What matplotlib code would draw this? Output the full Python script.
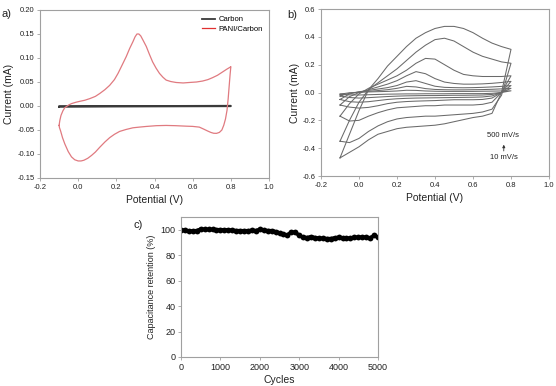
import matplotlib
matplotlib.use("Agg")
import matplotlib.pyplot as plt

plt.rcParams['font.family'] = ['Liberation Sans', 'DejaVu Sans']

# ---------------- Panel a data ----------------
a_carbon_v = [-0.1, 0.8, 0.8, -0.1, -0.1]
a_carbon_i = [-0.0015, -0.0005, 0.0005, -0.0005, -0.0015]

a_pani_v = [-0.100, -0.096, -0.090, -0.080, -0.070, -0.050, -0.035, -0.010, 0.009, 0.035,
            0.061, 0.090, 0.113, 0.140, 0.165, 0.190, 0.209, 0.230, 0.252, 0.270,
            0.287, 0.298, 0.308, 0.318, 0.328, 0.340, 0.357, 0.373, 0.390, 0.408,
            0.426, 0.444, 0.461, 0.485, 0.513, 0.550, 0.583, 0.620, 0.652, 0.680,
            0.704, 0.730, 0.757, 0.780, 0.797, 0.800,
            0.796, 0.791, 0.786, 0.780, 0.772, 0.763, 0.753, 0.740, 0.725, 0.710,
            0.695, 0.678, 0.657, 0.635, 0.600, 0.565, 0.510, 0.461, 0.410, 0.357,
            0.320, 0.287, 0.250, 0.217, 0.190, 0.165, 0.140, 0.113, 0.090, 0.070,
            0.050, 0.030, 0.015, 0.000, -0.018, -0.035, -0.052, -0.070, -0.082, -0.092,
            -0.098, -0.100]
a_pani_i = [-0.0405, -0.030, -0.0196, -0.010, -0.0035, 0.002, 0.005, 0.008, 0.0098, 0.012,
            0.0154, 0.020, 0.026, 0.034, 0.043, 0.055, 0.068, 0.085, 0.103, 0.120,
            0.134, 0.144, 0.150, 0.150, 0.146, 0.137, 0.124, 0.108, 0.092, 0.079,
            0.068, 0.060, 0.054, 0.051, 0.049, 0.048, 0.049, 0.050, 0.052, 0.055,
            0.059, 0.064, 0.071, 0.077, 0.081, 0.082,
            0.065, 0.040, 0.015, -0.009, -0.027, -0.040, -0.050, -0.055, -0.057, -0.0568,
            -0.055, -0.052, -0.048, -0.044, -0.0425, -0.042, -0.041, -0.0405, -0.041, -0.0426,
            -0.044, -0.0454, -0.049, -0.053, -0.059, -0.066, -0.075, -0.086, -0.096, -0.103,
            -0.109, -0.113, -0.1145, -0.1145, -0.112, -0.106, -0.095, -0.079, -0.066, -0.052,
            -0.045, -0.0405]

# ---------------- Panel b data ----------------
b_v_up = [-0.1, -0.05, 0.0, 0.05, 0.1, 0.15, 0.2, 0.25, 0.3, 0.35, 0.4, 0.45, 0.5,
          0.55, 0.6, 0.65, 0.7, 0.75, 0.8]
b_v_down = [0.8, 0.75, 0.7, 0.65, 0.6, 0.55, 0.5, 0.45, 0.4, 0.35, 0.3, 0.25, 0.2,
            0.15, 0.1, 0.05, 0.0, -0.05, -0.1]

b_up_500 = [-0.47, -0.30, -0.13, 0.02, 0.10, 0.19, 0.26, 0.33, 0.39, 0.43, 0.46, 0.475, 0.475,
            0.46, 0.43, 0.39, 0.355, 0.33, 0.31]
b_down_500 = [0.31, 0.0, -0.15, -0.17, -0.18, -0.195, -0.21, -0.225, -0.235, -0.24, -0.245,
              -0.25, -0.26, -0.28, -0.30, -0.34, -0.39, -0.43, -0.47]
b_up_300 = [-0.35, -0.20, -0.07, 0.02, 0.07, 0.12, 0.17, 0.23, 0.29, 0.34, 0.38, 0.39, 0.37,
            0.33, 0.29, 0.26, 0.24, 0.22, 0.21]
b_down_300 = [0.21, -0.02, -0.12, -0.14, -0.15, -0.155, -0.16, -0.165, -0.17, -0.17, -0.175,
              -0.18, -0.19, -0.21, -0.24, -0.28, -0.33, -0.36, -0.35]
b_up_200 = [-0.17, -0.08, -0.01, 0.03, 0.06, 0.09, 0.12, 0.16, 0.21, 0.245, 0.24, 0.20, 0.16,
            0.13, 0.12, 0.115, 0.115, 0.115, 0.12]
b_down_200 = [0.12, 0.0, -0.07, -0.085, -0.09, -0.09, -0.09, -0.09, -0.095, -0.095, -0.10,
              -0.105, -0.11, -0.125, -0.145, -0.17, -0.20, -0.205, -0.17]
b_up_100 = [-0.09, -0.03, 0.0, 0.02, 0.04, 0.06, 0.085, 0.12, 0.15, 0.135, 0.10, 0.075, 0.065,
            0.06, 0.06, 0.062, 0.066, 0.072, 0.08]
b_down_100 = [0.08, 0.0, -0.04, -0.05, -0.052, -0.052, -0.052, -0.055, -0.058, -0.06, -0.062,
              -0.065, -0.07, -0.08, -0.095, -0.107, -0.112, -0.105, -0.09]
b_up_50 = [-0.05, -0.01, 0.005, 0.015, 0.025, 0.035, 0.05, 0.075, 0.085, 0.065, 0.045, 0.037,
           0.035, 0.034, 0.035, 0.037, 0.04, 0.044, 0.05]
b_down_50 = [0.05, 0.0, -0.025, -0.032, -0.034, -0.035, -0.036, -0.037, -0.038, -0.039, -0.04,
             -0.042, -0.045, -0.05, -0.058, -0.066, -0.07, -0.066, -0.05]
b_up_20 = [-0.025, -0.005, 0.003, 0.008, 0.014, 0.02, 0.03, 0.044, 0.04, 0.028, 0.022, 0.02,
           0.019, 0.019, 0.02, 0.021, 0.023, 0.026, 0.03]
b_down_20 = [0.03, 0.0, -0.014, -0.018, -0.019, -0.02, -0.02, -0.021, -0.022, -0.022, -0.023,
             -0.024, -0.026, -0.029, -0.033, -0.037, -0.04, -0.036, -0.025]
b_up_10 = [-0.012, -0.002, 0.002, 0.004, 0.006, 0.008, 0.011, 0.016, 0.015, 0.011, 0.009, 0.008,
           0.008, 0.008, 0.008, 0.009, 0.01, 0.011, 0.012]
b_down_10 = [0.012, 0.0, -0.006, -0.008, -0.008, -0.008, -0.008, -0.009, -0.009, -0.009, -0.01,
             -0.01, -0.011, -0.012, -0.014, -0.016, -0.018, -0.017, -0.012]

b_loops = [(b_up_10, b_down_10), (b_up_20, b_down_20), (b_up_50, b_down_50),
           (b_up_100, b_down_100), (b_up_200, b_down_200), (b_up_300, b_down_300),
           (b_up_500, b_down_500)]

# ---------------- Panel c data ----------------
c_cycles = [0, 100, 200, 300, 400, 500, 600, 700, 800, 900, 1000, 1100, 1200, 1300, 1400,
            1500, 1600, 1700, 1800, 1900, 2000, 2100, 2200, 2300, 2400, 2500, 2600, 2700,
            2800, 2900, 3000, 3100, 3200, 3300, 3400, 3500, 3600, 3700, 3800, 3900, 4000,
            4100, 4200, 4300, 4400, 4500, 4600, 4700, 4800, 4900, 5000]
c_retention = [100, 99.5, 99, 99, 99.3, 100.5, 100.3, 100.2, 100.2, 100, 100, 99.9, 99.8,
               99.5, 99.3, 99.2, 99.2, 99.2, 99.4, 99.3, 100.3, 99.5, 99.3, 99.2, 98.5, 97.5,
               96.3, 95.8, 98.2, 98.0, 95.5, 94.0, 93.8, 94.5, 93.8, 93.4, 93.2, 93.0, 93.0,
               93.6, 94.0, 93.4, 93.2, 93.5, 94.0, 94.0, 94.3, 94.0, 93.5, 95.5, 94.0]

W, H = 556, 386
fig = plt.figure(figsize=(W / 100, H / 100), dpi=100)

SPINE = '#a0a0a0'
TXT = '#222222'


def style(ax, fs):
    for s in ax.spines.values():
        s.set_color(SPINE)
        s.set_linewidth(0.8)
    ax.tick_params(direction='out', length=2.5, width=0.6, color=SPINE,
                   labelsize=fs, labelcolor=TXT, pad=1.5)


def px_axes(l, t, r, b):
    return fig.add_axes([l / W, 1 - b / H, (r - l) / W, (b - t) / H])


# Panel a
axa = px_axes(40, 10, 269, 178)
axa.plot(a_carbon_v, a_carbon_i, color='#3a3a3a', lw=1.3, label='Carbon')
axa.plot(a_pani_v, a_pani_i, color='#e07a80', lw=0.9, label='PANI/Carbon')
axa.set_xlim(-0.2, 1.0)
axa.set_ylim(-0.15, 0.20)
axa.set_xticks([-0.2, 0.0, 0.2, 0.4, 0.6, 0.8, 1.0])
axa.set_xticklabels(['-0.2', '0.0', '0.2', '0.4', '0.6', '0.8', '1.0'])
axa.set_yticks([-0.15, -0.10, -0.05, 0.0, 0.05, 0.10, 0.15, 0.20])
axa.set_yticklabels(['-0.15', '-0.10', '-0.05', '0.00', '0.05', '0.10', '0.15', '0.20'])
style(axa, 5.5)
axa.set_xlabel('Potential (V)', fontsize=7.5, color=TXT, labelpad=3)
axa.set_ylabel('Current (mA)', fontsize=7.5, color=TXT, labelpad=2)
leg = axa.legend(loc='upper right', frameon=False, fontsize=5.5, handlelength=1.6,
                 handletextpad=0.5, borderaxespad=0.4, labelspacing=0.3)
leg.get_lines()[1].set_color('#e03030')
fig.text(2 / W, 1 - 14 / H, 'a)', fontsize=8, color=TXT, va='center', ha='left')

# Panel b
axb = px_axes(321, 9, 549, 176)
for up, down in b_loops:
    axb.plot(b_v_up + b_v_down, up + down, color='#6a6a6a', lw=0.75)
axb.set_xlim(-0.2, 1.0)
axb.set_ylim(-0.6, 0.6)
axb.set_xticks([-0.2, 0.0, 0.2, 0.4, 0.6, 0.8, 1.0])
axb.set_xticklabels(['-0.2', '0.0', '0.2', '0.4', '0.6', '0.8', '1.0'])
axb.set_yticks([-0.6, -0.4, -0.2, 0.0, 0.2, 0.4, 0.6])
axb.set_yticklabels(['-0.6', '-0.4', '-0.2', '0.0', '0.2', '0.4', '0.6'])
style(axb, 5.5)
axb.set_xlabel('Potential (V)', fontsize=7.5, color=TXT, labelpad=3)
axb.set_ylabel('Current (mA)', fontsize=7.5, color=TXT, labelpad=2)
axb.text(0.76, -0.31, '500 mV/s', fontsize=5.5, color=TXT, ha='center', va='center')
axb.annotate('', xy=(0.762, -0.355), xytext=(0.762, -0.44),
             arrowprops=dict(arrowstyle='-|>', color='#333333', lw=0.6,
                             mutation_scale=4))
axb.text(0.765, -0.47, '10 mV/s', fontsize=5.5, color=TXT, ha='center', va='center')
fig.text(287 / W, 1 - 15 / H, 'b)', fontsize=8, color=TXT, va='center', ha='left')

# Panel c
axc = px_axes(181, 217, 378, 357)
axc.plot(c_cycles, c_retention, color='black', lw=2.6, marker='o', markersize=4.2,
         markeredgewidth=0, solid_capstyle='round')
axc.set_xlim(0, 5000)
axc.set_ylim(0, 110)
axc.set_xticks([0, 1000, 2000, 3000, 4000, 5000])
axc.set_yticks([0, 20, 40, 60, 80, 100])
style(axc, 6.5)
axc.set_ylabel('Capacitance retention (%)', fontsize=6.5, color=TXT, labelpad=3)
fig.text(279 / W, 1 - 385 / H, 'Cycles', fontsize=7.5, color=TXT, ha='center', va='bottom')
fig.text(133 / W, 1 - 225 / H, 'c)', fontsize=8, color=TXT, va='center', ha='left')

fig.savefig('out.png', dpi=100)
